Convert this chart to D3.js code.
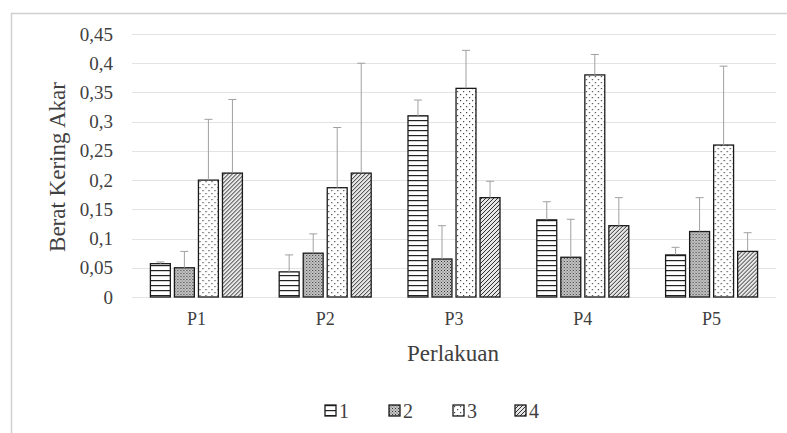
<!DOCTYPE html>
<html>
<head>
<meta charset="utf-8">
<script src="https://d3js.org/d3.v7.min.js"></script>
<style>
  body { margin: 0; background: #fff; }
  svg text { font-family: "Times New Roman", "Liberation Serif", "DejaVu Serif", serif !important; fill: #404040; }
</style>
</head>
<body>
<div id="chart"></div>
<script>
// data
var categories = ["P1", "P2", "P3", "P4", "P5"];
var series = ["1", "2", "3", "4"];
var values = [
  [0.057, 0.050, 0.200, 0.212],   // P1
  [0.043, 0.075, 0.187, 0.212],   // P2
  [0.310, 0.065, 0.357, 0.170],   // P3
  [0.132, 0.068, 0.380, 0.122],   // P4
  [0.072, 0.112, 0.260, 0.078]    // P5
];
// top of each error bar
var errTops = [
  [0.060, 0.078, 0.304, 0.338],
  [0.072, 0.108, 0.290, 0.400],
  [0.337, 0.122, 0.422, 0.198],
  [0.163, 0.133, 0.415, 0.170],
  [0.085, 0.170, 0.395, 0.110]
];
var yTicks = [0, 0.05, 0.1, 0.15, 0.2, 0.25, 0.3, 0.35, 0.4, 0.45];

var W = 787, H = 433;
var svg = d3.select("#chart").append("svg")
  .attr("width", W).attr("height", H)
  .attr("font-family", "Times New Roman, Liberation Serif, serif");

// patterns (Excel style fills)
var defs = svg.append("defs");
var p1 = defs.append("pattern").attr("id", "pat1").attr("patternUnits", "userSpaceOnUse")
  .attr("width", 6).attr("height", 5);
p1.append("rect").attr("width", 6).attr("height", 5).attr("fill", "#fff");
p1.append("rect").attr("y", 0).attr("width", 6).attr("height", 1.2).attr("fill", "#222");

var p2 = defs.append("pattern").attr("id", "pat2").attr("patternUnits", "userSpaceOnUse")
  .attr("width", 3).attr("height", 3);
p2.append("rect").attr("width", 3).attr("height", 3).attr("fill", "#c8c8c8");
p2.append("rect").attr("x", 0).attr("y", 0).attr("width", 1).attr("height", 1).attr("fill", "#333");
p2.append("rect").attr("x", 1.5).attr("y", 1.5).attr("width", 1).attr("height", 1).attr("fill", "#555");

var p3 = defs.append("pattern").attr("id", "pat3").attr("patternUnits", "userSpaceOnUse")
  .attr("width", 6).attr("height", 6);
p3.append("rect").attr("width", 6).attr("height", 6).attr("fill", "#fff");
p3.append("rect").attr("x", 1).attr("y", 1).attr("width", 1.2).attr("height", 1.2).attr("fill", "#444");
p3.append("rect").attr("x", 4).attr("y", 4).attr("width", 1.2).attr("height", 1.2).attr("fill", "#444");

var p4 = defs.append("pattern").attr("id", "pat4").attr("patternUnits", "userSpaceOnUse")
  .attr("width", 4).attr("height", 4);
p4.append("rect").attr("width", 4).attr("height", 4).attr("fill", "#e6e6e6");
p4.append("path").attr("d", "M-1,1 L1,-1 M0,4 L4,0 M3,5 L5,3")
  .attr("stroke", "#333").attr("stroke-width", 1);

var fills = ["url(#pat1)", "url(#pat2)", "url(#pat3)", "url(#pat4)"];

// chart border (only left + top visible in the original)
svg.append("path")
  .attr("d", "M11.5," + H + " L11.5,13.5 L" + W + ",13.5")
  .attr("fill", "none").attr("stroke", "#d0d0d0").attr("stroke-width", 1.5);

var plotLeft = 132, plotRight = 776;
var x0 = d3.scaleBand().domain(categories).range([plotLeft, plotRight]);
var x1 = d3.scaleBand().domain(series).range([0, 92]).paddingInner(0.17);
var y = d3.scaleLinear().domain([0, 0.45]).range([297, 34]);

// gridlines
svg.append("g").selectAll("line").data(yTicks).enter().append("line")
  .attr("x1", plotLeft).attr("x2", plotRight)
  .attr("y1", d => Math.round(y(d)) + 0.5).attr("y2", d => Math.round(y(d)) + 0.5)
  .attr("stroke", "#e3e3e3").attr("stroke-width", 1);

// y axis labels
var fmt = d => String(d).replace(".", ",");
var yAxis = d3.axisLeft(y).tickValues(yTicks).tickFormat(fmt).tickSize(0).tickPadding(0);
var gy = svg.append("g").attr("transform", "translate(113,0)").call(yAxis)
  .attr("font-family", null).attr("font-size", null);
gy.select(".domain").remove();
gy.selectAll("text").style("font-size", "19px").attr("fill", "#404040");

// bottom axis labels
var xAxis = d3.axisBottom(x0).tickSize(0).tickPadding(15);
var gx = svg.append("g").attr("transform", "translate(0,297)").call(xAxis)
  .attr("font-family", null).attr("font-size", null);
gx.select(".domain").remove();
gx.selectAll("text").style("font-size", "18px").attr("fill", "#404040");

// bars
var groups = svg.append("g").selectAll("g").data(categories).enter().append("g")
  .attr("transform", d => "translate(" + (x0(d) + (x0.bandwidth() - 92) / 2) + ",0)");

groups.each(function(cat, ci) {
  var g = d3.select(this);
  series.forEach(function(s, si) {
    var v = values[ci][si];
    var bx = x1(s), bw = x1.bandwidth();
    g.append("rect")
      .attr("x", bx).attr("y", y(v))
      .attr("width", bw).attr("height", y(0) - y(v))
      .attr("fill", fills[si]).attr("stroke", "#1a1a1a").attr("stroke-width", 1.3);
    var cx = bx + bw / 2, et = errTops[ci][si];
    g.append("line").attr("x1", cx).attr("x2", cx)
      .attr("y1", y(v)).attr("y2", y(et))
      .attr("stroke", "#a0a0a0").attr("stroke-width", 1);
    g.append("line").attr("x1", cx - 4).attr("x2", cx + 4)
      .attr("y1", y(et)).attr("y2", y(et))
      .attr("stroke", "#a0a0a0").attr("stroke-width", 1);
  });
});

// axis titles
svg.append("text").attr("x", 453).attr("y", 361).attr("text-anchor", "middle")
  .style("font-size", "23px").text("Perlakuan");
svg.append("text").attr("transform", "translate(65,167) rotate(-90)")
  .attr("text-anchor", "middle").style("font-size", "23px").text("Berat Kering Akar");

// legend
var legX = [325, 389, 453, 515];
var leg = svg.append("g").selectAll("g").data(series).enter().append("g")
  .attr("transform", (d, i) => "translate(" + legX[i] + ",405)");
leg.append("rect").attr("width", 11).attr("height", 11)
  .attr("fill", (d, i) => fills[i]).attr("stroke", "#1a1a1a").attr("stroke-width", 1.3);
leg.append("text").attr("x", 14).attr("y", 13).style("font-size", "20px").text(d => d);
</script>
</body>
</html>
